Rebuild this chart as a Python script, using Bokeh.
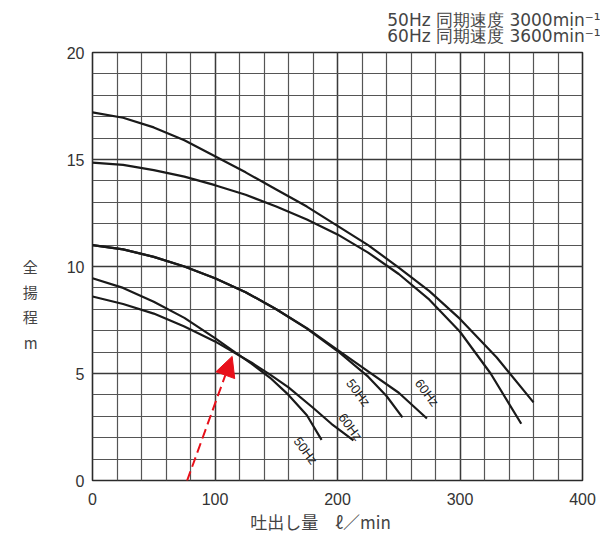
from bokeh.plotting import figure
from bokeh.models import FixedTicker, Arrow, NormalHead, ColumnDataSource
from bokeh.core.properties import value
from bokeh.embed import file_html
from bokeh.resources import INLINE

# ---- data (flow l/min, head m) ----
flow_A = [0, 25, 50, 75, 100, 125, 150, 175, 200, 225, 250, 275, 300, 330, 360]
head_A = [17.2, 16.95, 16.5, 15.9, 15.15, 14.4, 13.6, 12.8, 11.9, 11.0, 9.95, 8.85, 7.55, 5.75, 3.65]

flow_B = [0, 25, 50, 75, 100, 125, 150, 175, 200, 225, 250, 275, 300, 325, 350]
head_B = [14.85, 14.75, 14.5, 14.2, 13.8, 13.35, 12.8, 12.2, 11.5, 10.65, 9.65, 8.45, 6.95, 5.0, 2.65]

flow_C = [0, 25, 50, 75, 100, 125, 150, 175, 200, 225, 240, 253]
head_C = [11.0, 10.8, 10.45, 10.0, 9.45, 8.8, 8.0, 7.1, 6.05, 4.85, 3.95, 2.95]

flow_D = [0, 25, 50, 75, 100, 125, 150, 175, 200, 225, 250, 273]
head_D = [11.0, 10.8, 10.45, 10.0, 9.45, 8.8, 8.0, 7.12, 6.1, 5.1, 4.1, 2.9]

flow_E = [0, 25, 50, 75, 100, 115, 130, 145, 160, 175, 187]
head_E = [9.45, 9.0, 8.35, 7.6, 6.65, 6.05, 5.45, 4.8, 4.0, 3.05, 1.9]

flow_F = [0, 25, 50, 75, 100, 115, 130, 145, 160, 180, 195, 213]
head_F = [8.6, 8.25, 7.8, 7.2, 6.5, 6.0, 5.5, 4.95, 4.35, 3.4, 2.65, 1.87]

curve_labels = ["60Hz", "50Hz", "60Hz", "50Hz"]

x_ticks = [0, 100, 200, 300, 400]
y_ticks = [0, 5, 10, 15, 20]
x_minor = list(range(0, 401, 20))
y_minor = list(range(0, 21, 1))

header_lines = ["50Hz 同期速度 3000min\u207b\u00b9", "60Hz 同期速度 3600min\u207b\u00b9"]
y_label = "\n\n\n全\n揚\n程\nm"
x_label = "吐出し量\u3000ℓ／min\u3000\u3000"

# ---- figure ----
p = figure(width=600, height=536, x_range=(0, 400), y_range=(0, 20),
           output_backend="svg", toolbar_location=None,
           min_border_left=92, min_border_right=18,
           min_border_top=52, min_border_bottom=55)
p.background_fill_color = "white"
p.border_fill_color = "white"
p.outline_line_color = "#2a2a2a"
p.outline_line_width = 1.6

# header: two right-aligned lines
p.title.text = "\n".join(header_lines)
p.title.align = "right"
p.title.offset = -18
p.title.standoff = 12
p.title.text_line_height = 0.82
p.title.text_font = "DejaVu Sans"
p.title.text_font_style = "normal"
p.title.text_font_size = "17px"
p.title.text_color = "#444444"

for ax, ticks, minor in ((p.xaxis, x_ticks, x_minor), (p.yaxis, y_ticks, y_minor)):
    ax.ticker = FixedTicker(ticks=ticks, minor_ticks=minor)
    ax.axis_line_color = None
    ax.major_tick_line_color = None
    ax.minor_tick_line_color = None
    ax.major_label_text_font = "Liberation Sans"
    ax.major_label_text_font_size = "16px"
    ax.major_label_text_color = "#333333"
p.xaxis.major_label_standoff = 6
p.yaxis.major_label_standoff = 2

p.xaxis.axis_label = x_label
p.xaxis.axis_label_text_font = "Noto Sans CJK JP"
p.xaxis.axis_label_text_font_style = "normal"
p.xaxis.axis_label_text_font_size = "17px"
p.xaxis.axis_label_text_color = "#444444"
p.xaxis.axis_label_standoff = 1

p.yaxis.axis_label = y_label
p.yaxis.axis_label_orientation = "horizontal"
p.yaxis.axis_label_text_font = "Noto Sans CJK JP"
p.yaxis.axis_label_text_font_style = "normal"
p.yaxis.axis_label_text_font_size = "15px"
p.yaxis.axis_label_text_color = "#444444"
p.yaxis.axis_label_standoff = 26

for g in (p.xgrid, p.ygrid):
    g.grid_line_color = "#3a3a3a"
    g.grid_line_width = 1.4
    g.minor_grid_line_color = "#555555"
    g.minor_grid_line_width = 1.2

# ---- curves ----
for fx, hy in ((flow_A, head_A), (flow_B, head_B), (flow_C, head_C),
               (flow_D, head_D), (flow_E, head_E), (flow_F, head_F)):
    p.line(fx, hy, line_color="#1a1a1a", line_width=2.2)

# curve labels (rotated along curves)
lab_src = ColumnDataSource(dict(x=[273, 217, 210.5, 174], y=[4.1, 4.1, 2.5, 1.4], t=curve_labels))
p.text(x="x", y="y", text="t", source=lab_src, angle=-53, angle_units="deg",
       text_align="center", text_baseline="middle", text_font_size="13px",
       text_font=value("Liberation Sans"), text_color="#222222")

# ---- red pointer arrow ----
p.add_layout(Arrow(end=NormalHead(size=20, fill_color="#e8101a", line_color="#e8101a"),
                   x_start=56.3, y_start=-3.31, x_end=114.0, y_end=5.8,
                   line_color="#e8101a", line_width=2, line_dash="10 5"))

open("out.html", "w").write(file_html(p, INLINE))
